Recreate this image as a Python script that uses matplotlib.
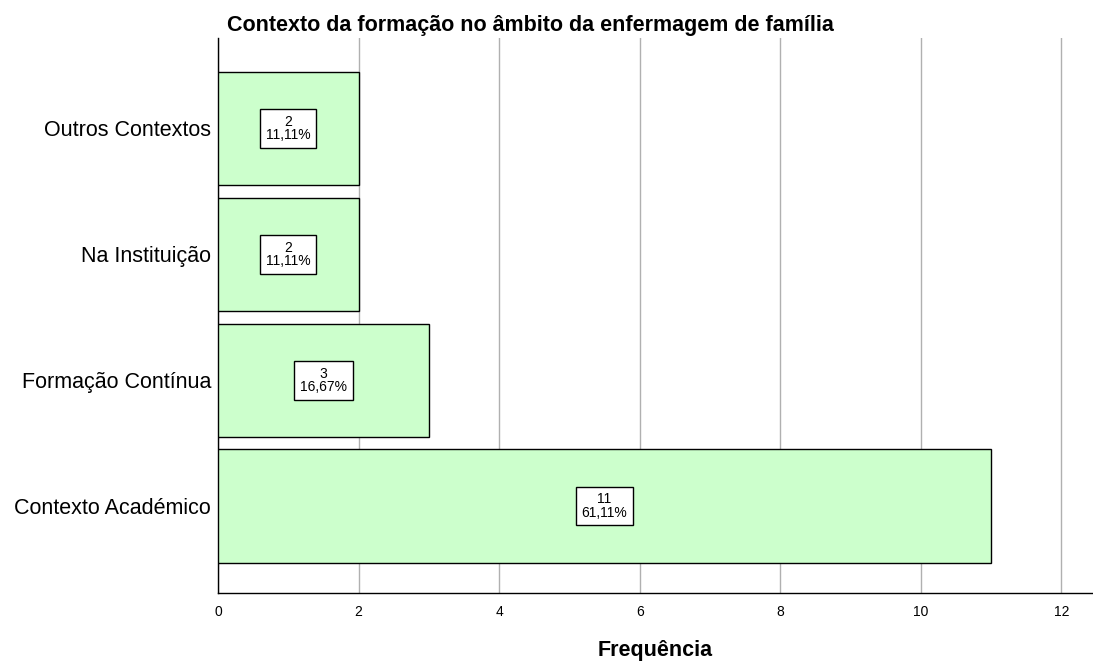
import matplotlib
matplotlib.use("Agg")
from matplotlib import pyplot as plt

plt.rcParams['font.family'] = ['Liberation Sans', 'DejaVu Sans']

categorias = ["Contexto Académico", "Formação Contínua", "Na Instituição", "Outros Contextos"]
frequencias = [11, 3, 2, 2]
percentagens = ["61,11%", "16,67%", "11,11%", "11,11%"]

fig = plt.figure(figsize=(10.93, 6.64), dpi=100)
ax = fig.add_axes([0.1995, 0.107, 0.8005, 0.836])

y = range(len(categorias))
ax.barh(y, frequencias, height=0.9, color="#ccffcc", edgecolor="black", linewidth=1, zorder=3)

for i, (f, p) in enumerate(zip(frequencias, percentagens)):
    ax.text(f / 2, i, "{}\n{}".format(f, p), ha="center", va="center", fontsize=10,
            linespacing=0.95, zorder=4,
            bbox=dict(boxstyle="square,pad=0.4", facecolor="white", edgecolor="black", linewidth=1))

ax.set_xlim(0, 12.45)
ax.set_ylim(-0.69, 3.72)
ax.set_yticks(list(y))
ax.set_yticklabels(categorias, fontsize=15.5)
ax.set_xticks([0, 2, 4, 6, 8, 10, 12])
ax.tick_params(axis="both", length=0)
ax.tick_params(axis="x", labelsize=10, pad=9)
ax.tick_params(axis="y", pad=5)
ax.grid(axis="x", color="#b0b0b0", linewidth=1, zorder=0)
ax.spines["top"].set_visible(False)
ax.spines["right"].set_visible(False)
ax.spines["left"].set_linewidth(1)
ax.spines["bottom"].set_linewidth(1)

ax.set_title("Contexto da formação no âmbito da enfermagem de família",
             fontsize=15.5, fontweight="bold", loc="left", x=0.01, pad=5)
ax.set_xlabel("Frequência", fontsize=15.5, fontweight="bold", labelpad=15)

plt.savefig("out.png", dpi=100)
